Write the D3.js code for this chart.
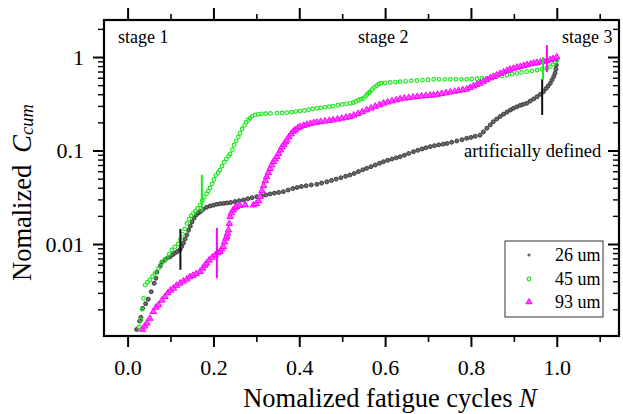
<!DOCTYPE html>
<html lang="en">
<head>
	<meta charset="UTF-8">
	<script src="https://d3js.org/d3.v7.min.js"></script>
	<title>Normalized Ccum vs fatigue cycles</title>
	<style>
		body { margin: 0; background: #fff; }
		svg { display: block; }
		text { font-family: "Liberation Serif", "Times New Roman", serif; }
	</style>
</head>
<body>
	<svg width="623" height="414"></svg>

	<script>
		// values: [normalized N, normalized Ccum]
		const s26 = [[0.021,0.00122],[0.028,0.0015],[0.031,0.00164],[0.035,0.00205],[0.042,0.0023],[0.048,0.00257],[0.055,0.00309],[0.062,0.0038],[0.066,0.0043],[0.068,0.0050],[0.076,0.0058],[0.080,0.0064],[0.087,0.0068],[0.093,0.0071],[0.099,0.0073],[0.105,0.0077],[0.110,0.0080],[0.116,0.0083],[0.122,0.0087],[0.126,0.0094],[0.130,0.0102],[0.134,0.0113],[0.138,0.0125],[0.142,0.0140],[0.146,0.0155],[0.150,0.0172],[0.155,0.0190],[0.160,0.0205],[0.165,0.0215],[0.170,0.0222],[0.176,0.0235],[0.184,0.0247],[0.192,0.0255],[0.200,0.0260],[0.208,0.0266],[0.216,0.0270],[0.224,0.0272],[0.232,0.0275],[0.240,0.0278],[0.250,0.0284],[0.260,0.0290],[0.270,0.0296],[0.280,0.0305],[0.290,0.0313],[0.301,0.0321],[0.312,0.0328],[0.322,0.0335],[0.332,0.0343],[0.342,0.0350],[0.352,0.0356],[0.363,0.0363],[0.374,0.0378],[0.385,0.0392],[0.395,0.0402],[0.405,0.0412],[0.416,0.0420],[0.428,0.0428],[0.441,0.0435],[0.452,0.0448],[0.464,0.0462],[0.475,0.0478],[0.486,0.0495],[0.497,0.0512],[0.508,0.0530],[0.518,0.0547],[0.528,0.0568],[0.538,0.0595],[0.548,0.0622],[0.557,0.0645],[0.567,0.0672],[0.577,0.0700],[0.587,0.0730],[0.596,0.0759],[0.606,0.0785],[0.616,0.0810],[0.626,0.0835],[0.635,0.0859],[0.645,0.0890],[0.655,0.0930],[0.666,0.0970],[0.676,0.1005],[0.686,0.1040],[0.695,0.1070],[0.705,0.1100],[0.715,0.1125],[0.725,0.1150],[0.735,0.1170],[0.744,0.1190],[0.755,0.1225],[0.767,0.1265],[0.779,0.1305],[0.790,0.1350],[0.800,0.1380],[0.810,0.1420],[0.821,0.1460],[0.829,0.158],[0.837,0.173],[0.845,0.188],[0.852,0.203],[0.860,0.217],[0.868,0.231],[0.876,0.245],[0.884,0.258],[0.892,0.271],[0.899,0.283],[0.907,0.293],[0.915,0.304],[0.922,0.312],[0.930,0.320],[0.938,0.338],[0.946,0.356],[0.954,0.376],[0.962,0.400],[0.969,0.426],[0.975,0.46],[0.980,0.49],[0.985,0.524],[0.989,0.57],[0.993,0.62],[0.996,0.67],[0.998,0.74],[0.999,0.82],[1.000,0.93]];

		const s45 = [[0.027,0.0013],[0.031,0.00154],[0.034,0.0020],[0.037,0.00262],[0.041,0.00364],[0.046,0.0039],[0.052,0.00412],[0.058,0.0045],[0.064,0.00486],[0.072,0.0055],[0.079,0.00622],[0.085,0.0066],[0.091,0.00703],[0.097,0.0078],[0.103,0.00863],[0.110,0.0093],[0.118,0.0100],[0.123,0.0112],[0.128,0.0127],[0.133,0.0145],[0.138,0.0166],[0.143,0.0185],[0.148,0.0200],[0.153,0.0213],[0.158,0.0225],[0.163,0.0240],[0.169,0.0261],[0.174,0.0290],[0.179,0.0320],[0.184,0.0345],[0.188,0.0370],[0.192,0.0397],[0.197,0.0440],[0.201,0.0490],[0.206,0.0540],[0.211,0.0580],[0.215,0.0618],[0.220,0.0680],[0.225,0.0750],[0.230,0.0810],[0.235,0.0870],[0.239,0.0918],[0.244,0.1020],[0.248,0.1140],[0.253,0.1270],[0.258,0.1400],[0.262,0.153],[0.267,0.170],[0.272,0.186],[0.276,0.200],[0.281,0.212],[0.285,0.221],[0.290,0.232],[0.297,0.240],[0.304,0.244],[0.312,0.247],[0.322,0.248],[0.333,0.249],[0.348,0.251],[0.360,0.253],[0.371,0.254],[0.382,0.257],[0.392,0.261],[0.402,0.264],[0.412,0.268],[0.422,0.273],[0.431,0.279],[0.441,0.283],[0.450,0.286],[0.460,0.290],[0.470,0.295],[0.479,0.299],[0.490,0.305],[0.500,0.311],[0.510,0.316],[0.519,0.320],[0.526,0.325],[0.532,0.335],[0.538,0.345],[0.544,0.354],[0.549,0.361],[0.554,0.380],[0.558,0.398],[0.562,0.413],[0.565,0.426],[0.570,0.450],[0.575,0.472],[0.580,0.492],[0.585,0.512],[0.590,0.525],[0.600,0.530],[0.612,0.535],[0.624,0.540],[0.635,0.545],[0.648,0.550],[0.661,0.556],[0.674,0.561],[0.687,0.566],[0.700,0.571],[0.713,0.577],[0.726,0.578],[0.739,0.578],[0.752,0.577],[0.765,0.577],[0.778,0.577],[0.790,0.577],[0.802,0.582],[0.814,0.586],[0.826,0.589],[0.837,0.592],[0.849,0.605],[0.861,0.618],[0.872,0.630],[0.884,0.642],[0.896,0.655],[0.907,0.670],[0.918,0.684],[0.930,0.697],[0.942,0.710],[0.954,0.725],[0.966,0.740],[0.977,0.757],[0.985,0.79],[0.991,0.83],[0.996,0.88],[1.000,0.93]];

		const s93 = [[0.035,0.00122],[0.040,0.00132],[0.045,0.00142],[0.052,0.00160],[0.060,0.00189],[0.066,0.0021],[0.072,0.00223],[0.080,0.0025],[0.087,0.00273],[0.094,0.0030],[0.100,0.0032],[0.107,0.00336],[0.114,0.0036],[0.122,0.0038],[0.130,0.0040],[0.138,0.0042],[0.145,0.00444],[0.152,0.0046],[0.160,0.0048],[0.169,0.00506],[0.175,0.0055],[0.180,0.0059],[0.184,0.00622],[0.190,0.0067],[0.197,0.0072],[0.204,0.00762],[0.210,0.0080],[0.215,0.00828],[0.219,0.0088],[0.223,0.00936],[0.226,0.0105],[0.229,0.0115],[0.231,0.0120],[0.233,0.0130],[0.235,0.0141],[0.237,0.0165],[0.239,0.0196],[0.242,0.0215],[0.246,0.0230],[0.250,0.0242],[0.254,0.0251],[0.262,0.0258],[0.274,0.0261],[0.293,0.0261],[0.300,0.0270],[0.305,0.0290],[0.309,0.0321],[0.313,0.0370],[0.317,0.0420],[0.321,0.0475],[0.324,0.0525],[0.328,0.0580],[0.332,0.0640],[0.336,0.0700],[0.340,0.0760],[0.344,0.0810],[0.348,0.0859],[0.352,0.0930],[0.356,0.1010],[0.360,0.1090],[0.364,0.1160],[0.368,0.1230],[0.371,0.129],[0.376,0.140],[0.381,0.150],[0.386,0.160],[0.391,0.167],[0.397,0.174],[0.402,0.180],[0.410,0.185],[0.418,0.190],[0.426,0.194],[0.434,0.198],[0.441,0.200],[0.450,0.203],[0.460,0.206],[0.470,0.209],[0.479,0.212],[0.489,0.216],[0.499,0.221],[0.509,0.226],[0.518,0.230],[0.527,0.238],[0.537,0.248],[0.547,0.259],[0.557,0.271],[0.567,0.283],[0.577,0.296],[0.587,0.308],[0.596,0.320],[0.606,0.329],[0.616,0.338],[0.626,0.347],[0.635,0.356],[0.645,0.362],[0.655,0.367],[0.665,0.372],[0.675,0.377],[0.685,0.381],[0.695,0.385],[0.705,0.389],[0.713,0.392],[0.722,0.398],[0.732,0.405],[0.742,0.413],[0.752,0.421],[0.762,0.429],[0.771,0.437],[0.781,0.445],[0.790,0.452],[0.798,0.470],[0.806,0.490],[0.814,0.508],[0.821,0.524],[0.829,0.548],[0.837,0.572],[0.845,0.596],[0.852,0.616],[0.860,0.640],[0.868,0.665],[0.876,0.690],[0.884,0.715],[0.891,0.737],[0.899,0.757],[0.907,0.774],[0.915,0.790],[0.923,0.810],[0.931,0.828],[0.939,0.843],[0.946,0.857],[0.954,0.870],[0.962,0.885],[0.969,0.899],[0.977,0.912],[0.985,0.935],[0.992,0.960],[1.000,1.000]];

		// stage boundary marks: [N, Ccum low, Ccum high]
		const marks26 = [[0.123, 0.0053, 0.0145], [0.966, 0.24, 0.58]];
		const marks45 = [[0.173, 0.0223, 0.055], [0.968, 0.57, 1.0]];
		const marks93 = [[0.208, 0.0043, 0.0148], [0.977, 0.69, 1.34]];

		const seriesNames = ['26 um', '45 um', '93 um'];
		const xMajor = [0, 0.2, 0.4, 0.6, 0.8, 1.0];
		const xLabels = ['0.0', '0.2', '0.4', '0.6', '0.8', '1.0'];
		const xMinor = [0.1, 0.3, 0.5, 0.7, 0.9, 1.1];
		const yMajor = [0.01, 0.1, 1];
		const yLabels = ['0.01', '0.1', '1'];
		const stageLabels = ['stage 1', 'stage 2', 'stage 3'];

		const svg = d3.select('svg');
		const x = d3.scaleLinear().domain([-0.055, 1.145]).range([104, 619]);
		const y = d3.scaleLog().domain([Math.pow(10, -2.984), Math.pow(10, 0.396)]).range([336, 20]);

		// minor log ticks 2..9 per decade
		const yMinor = [];
		[0.001, 0.01, 0.1, 1].forEach(d => {
			for (let k = 2; k <= 9; k++) {
				const v = k * d;
				if (v > y.domain()[0] && v < y.domain()[1]) yMinor.push(v);
			}
		});

		function styleAxis(g, w) {
			g.select('.domain').remove();
			g.selectAll('.tick line').attr('stroke', '#000').attr('stroke-width', w);
			g.selectAll('text').attr('font-size', 22).attr('fill', '#000')
				.attr('font-family', '"Liberation Serif", serif');
		}

		// bottom
		svg.append('g').attr('transform', 'translate(0,336)')
			.call(d3.axisBottom(x).tickValues(xMajor).tickSize(11).tickPadding(12).tickFormat((d, i) => xLabels[i]))
			.call(g => styleAxis(g, 2));
		svg.append('g').attr('transform', 'translate(0,336)')
			.call(d3.axisBottom(x).tickValues(xMinor).tickSize(6).tickFormat(''))
			.call(g => styleAxis(g, 1.6));
		// top
		svg.append('g').attr('transform', 'translate(0,20)')
			.call(d3.axisTop(x).tickValues(xMajor).tickSize(12).tickFormat(''))
			.call(g => styleAxis(g, 2));
		svg.append('g').attr('transform', 'translate(0,20)')
			.call(d3.axisTop(x).tickValues(xMinor).tickSize(6).tickFormat(''))
			.call(g => styleAxis(g, 1.6));
		// left
		svg.append('g').attr('transform', 'translate(104,0)')
			.call(d3.axisLeft(y).tickValues(yMajor).tickSize(11).tickPadding(9).tickFormat((d, i) => yLabels[i]))
			.call(g => styleAxis(g, 2));
		svg.append('g').attr('transform', 'translate(104,0)')
			.call(d3.axisLeft(y).tickValues(yMinor).tickSize(6).tickFormat(''))
			.call(g => styleAxis(g, 1.4));
		// right (inward)
		svg.append('g').attr('transform', 'translate(619,0)')
			.call(d3.axisRight(y).tickValues(yMajor).tickSize(-11).tickFormat(''))
			.call(g => styleAxis(g, 2));
		svg.append('g').attr('transform', 'translate(619,0)')
			.call(d3.axisRight(y).tickValues(yMinor).tickSize(-6).tickFormat(''))
			.call(g => styleAxis(g, 1.4));

		svg.append('rect')
			.attr('x', 104).attr('y', 20).attr('width', 515).attr('height', 316)
			.attr('fill', 'none').attr('stroke', '#000').attr('stroke-width', 2.2);

		// points
		svg.append('g').selectAll('circle').data(s26).enter().append('circle')
			.attr('cx', d => x(d[0])).attr('cy', d => y(d[1])).attr('r', 2)
			.attr('fill', '#6a6a6a').attr('stroke', '#333').attr('stroke-width', 0.9);

		svg.append('g').selectAll('circle').data(s45).enter().append('circle')
			.attr('cx', d => x(d[0])).attr('cy', d => y(d[1])).attr('r', 1.8)
			.attr('fill', 'none').attr('stroke', '#1ee81e').attr('stroke-width', 1.2);

		const tri = d3.symbol().type(d3.symbolTriangle).size(18);
		svg.append('g').selectAll('path').data(s93).enter().append('path')
			.attr('d', tri)
			.attr('transform', d => `translate(${x(d[0])},${y(d[1])})`)
			.attr('fill', '#ff4dff').attr('stroke', '#ff00ff').attr('stroke-width', 1);

		// boundary marks
		[[marks26, '#111'], [marks45, '#1ee81e'], [marks93, '#ff00ff']].forEach(([m, c]) => {
			svg.append('g').selectAll('line').data(m).enter().append('line')
				.attr('x1', d => x(d[0])).attr('x2', d => x(d[0]))
				.attr('y1', d => y(d[1])).attr('y2', d => y(d[2]))
				.attr('stroke', c).attr('stroke-width', 2);
		});

		// stage labels
		const stageX = [118, 358, 562];
		svg.append('g').selectAll('text').data(stageLabels).enter().append('text')
			.attr('x', (d, i) => stageX[i]).attr('y', 43)
			.attr('font-size', 18).text(d => d);

		svg.append('text').attr('x', 464).attr('y', 157).attr('font-size', 18.5)
			.text('artificially defined');

		// legend
		const lg = svg.append('g');
		lg.append('rect').attr('x', 505).attr('y', 241).attr('width', 98).attr('height', 76)
			.attr('fill', '#fff').attr('stroke', '#333').attr('stroke-width', 1);
		const ly = [255, 279, 302];
		lg.append('circle').attr('cx', 529).attr('cy', ly[0]).attr('r', 1.6).attr('fill', '#666');
		lg.append('circle').attr('cx', 529).attr('cy', ly[1]).attr('r', 1.8)
			.attr('fill', 'none').attr('stroke', '#1ee81e').attr('stroke-width', 1.2);
		lg.append('path').attr('d', d3.symbol().type(d3.symbolTriangle).size(16))
			.attr('transform', `translate(529,${ly[2]})`).attr('fill', '#ff4dff').attr('stroke', '#ff00ff');
		lg.selectAll('text.lab').data(seriesNames).enter().append('text')
			.attr('x', 555).attr('y', (d, i) => ly[i] + 6).attr('font-size', 18).text(d => d);

		// axis titles
		const xt = svg.append('text').attr('x', 390).attr('y', 407)
			.attr('text-anchor', 'middle').attr('font-size', 26.5);
		xt.append('tspan').text('Nomalized fatigue cycles ');
		xt.append('tspan').attr('font-style', 'italic').text('N');

		const yt = svg.append('text').attr('transform', 'translate(31,281) rotate(-90)')
			.attr('font-size', 26.5);
		yt.append('tspan').text('Nomalized');
		yt.append('tspan').attr('dx', 12).attr('font-style', 'italic').text('C');
		yt.append('tspan').attr('dy', 2).attr('font-size', 18.5).attr('font-style', 'italic').text('cum');
	</script>
</body>
</html>
